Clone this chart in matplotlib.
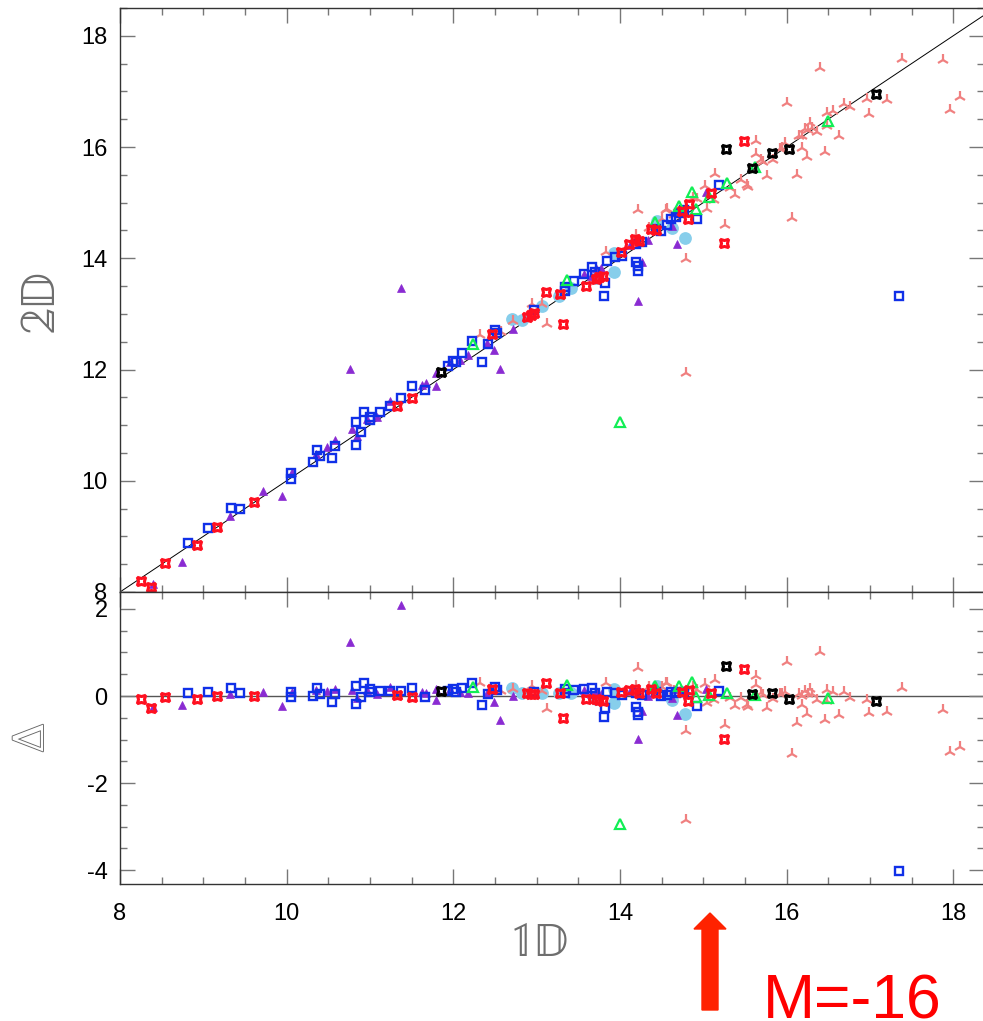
import numpy as np
import matplotlib.pyplot as plt
import matplotlib.patheffects as pe
from matplotlib.patches import FancyArrow
from matplotlib.ticker import MultipleLocator

plt.rcParams['font.family'] = ['Liberation Sans', 'DejaVu Sans']
plt.rcParams['axes.unicode_minus'] = False

# 1D magnitude and residual (2D - 1D) for each sample
red_x = [8.25, 8.37, 8.54, 8.93, 9.17, 9.61, 11.33, 11.51, 12.47, 12.88, 12.93, 12.97,
         13.11, 13.28, 13.32, 13.59, 13.71, 13.75, 13.80, 14.01, 14.11, 14.18, 14.23,
         14.37, 14.43, 14.75, 14.82, 14.83, 15.09, 15.25, 15.49]
red_d = [-0.06, -0.28, -0.02, -0.08, 0.00, 0.00, 0.02, -0.03, 0.17, 0.06, 0.05, 0.05,
         0.29, 0.08, -0.51, -0.08, -0.08, -0.09, -0.11, 0.10, 0.14, 0.17, 0.08,
         0.15, 0.08, 0.10, -0.11, 0.14, 0.08, -0.98, 0.62]

blue_x = [8.82, 9.06, 9.33, 9.44, 10.05, 10.05, 10.32, 10.37, 10.40, 10.54, 10.58,
          10.83, 10.83, 10.89, 10.93, 11.00, 11.00, 11.12, 11.24, 11.37, 11.51, 11.66,
          11.94, 12.00, 12.03, 12.11, 12.23, 12.34, 12.42, 12.50, 12.52, 12.97, 13.34,
          13.34, 13.45, 13.57, 13.67, 13.70, 13.81, 13.82, 13.85, 13.94, 14.03, 14.19,
          14.19, 14.22, 14.22, 14.27, 14.43, 14.49, 14.57, 14.61, 14.67, 14.71, 14.77,
          14.93, 15.19, 17.35]
blue_d = [0.06, 0.09, 0.18, 0.06, 0.09, -0.02, 0.01, 0.18, 0.05, -0.13, 0.04,
          0.23, -0.18, -0.02, 0.30, 0.15, 0.09, 0.12, 0.11, 0.11, 0.19, -0.03,
          0.12, 0.15, 0.10, 0.19, 0.29, -0.20, 0.04, 0.21, 0.14, 0.10, 0.15,
          0.08, 0.14, 0.15, 0.18, 0.06, -0.49, -0.27, 0.10, 0.08, 0.02, 0.06,
          -0.26, -0.36, -0.44, 0.02, 0.10, 0.00, 0.02, 0.10, 0.08, 0.10, 0.10,
          -0.23, 0.12, -4.02]

purple_x = [8.40, 8.75, 9.32, 9.72, 9.95, 10.06, 10.35, 10.48, 10.58, 10.76, 10.79,
            10.84, 10.97, 11.09, 11.24, 11.37, 11.63, 11.67, 11.79, 11.79, 11.96, 12.08,
            12.18, 12.41, 12.49, 12.56, 12.72, 13.57, 13.65, 13.71, 13.77, 14.12, 14.22,
            14.27, 14.34, 14.62, 14.67, 14.69, 14.75, 15.03]
purple_d = [-0.25, -0.21, 0.04, 0.10, -0.22, 0.10, 0.14, 0.12, 0.15, 1.25, 0.14,
            -0.04, 0.14, 0.05, 0.20, 2.10, 0.10, 0.08, 0.15, -0.09, 0.17, 0.10,
            0.08, 0.06, -0.14, -0.55, 0.01, 0.14, 0.04, 0.11, 0.05, 0.11, -0.98,
            -0.34, -0.01, -0.04, 0.17, -0.44, 0.12, 0.17]

sky_x = [12.71, 12.83, 13.07, 13.27, 13.41, 13.71, 13.93, 13.93, 14.45, 14.63, 14.78]
sky_d = [0.19, 0.06, 0.08, 0.06, 0.06, -0.06, -0.17, 0.17, 0.22, -0.09, -0.41]

green_x = [12.24, 13.36, 14.00, 14.42, 14.71, 14.86, 14.91, 15.07, 15.28, 15.62, 16.50]
green_d = [0.21, 0.25, -2.94, 0.23, 0.23, 0.33, -0.03, 0.03, 0.08, 0.02, -0.04]

black_x = [11.85, 15.27, 15.58, 15.82, 16.03, 17.07]
black_d = [0.11, 0.69, 0.05, 0.08, -0.06, -0.11]

salmon_x = [12.32, 12.57, 12.72, 12.94, 13.06, 13.13, 13.83, 14.19, 14.22, 14.35, 14.50,
            14.55, 14.57, 14.65, 14.79, 14.79, 14.88, 14.93, 15.02, 15.04, 15.13, 15.14,
            15.26, 15.32, 15.38, 15.45, 15.52, 15.54, 15.63, 15.63, 15.69, 15.72, 15.76,
            15.84, 15.92, 15.94, 15.98, 16.00, 16.06, 16.12, 16.15, 16.18, 16.19, 16.22,
            16.24, 16.26, 16.28, 16.30, 16.37, 16.40, 16.46, 16.48, 16.49, 16.56, 16.63,
            16.69, 16.76, 16.96, 16.99, 17.21, 17.39, 17.88, 17.96, 18.08]
salmon_d = [0.30, 0.11, 0.16, 0.24, 0.12, -0.31, 0.29, 0.23, 0.64, 0.20, 0.21,
            0.31, 0.31, 0.12, -0.80, -2.85, 0.20, 0.14, 0.28, -0.15, -0.09, 0.37,
            -0.67, -0.05, -0.24, -0.05, -0.21, -0.25, 0.47, 0.25, 0.08, 0.02, -0.28,
            -0.08, 0.04, 0.05, 0.09, 0.79, -1.33, -0.63, 0.05, -0.20, 0.00, 0.11,
            -0.41, 0.05, 0.15, 0.04, -0.10, 1.02, -0.55, 0.13, -0.12, 0.09, -0.43,
            0.09, -0.04, -0.10, -0.40, -0.36, 0.19, -0.32, -1.29, -1.18]

cross = (4, 1, 45)
series = [
    (sky_x, sky_d, dict(marker='o', ms=9.2, mfc='#87CEEB', mec='none')),
    (salmon_x, salmon_d, dict(marker='2', ms=9, mec='#F08080', mew=1.6)),
    (purple_x, purple_d, dict(marker='^', ms=6, mfc='#8A2BD2', mec='#8A2BD2', mew=0.5)),
    (blue_x, blue_d, dict(marker='s', ms=6.2, mfc='none', mec='#1030E8', mew=1.7)),
    (green_x, green_d, dict(marker='^', ms=7, mfc='none', mec='#12EE55', mew=1.6)),
    (red_x, red_d, dict(marker=cross, ms=8.5, mfc='none', mec='#FF1020', mew=2.2)),
    (black_x, black_d, dict(marker=cross, ms=8.5, mfc='none', mec='black', mew=2.2)),
]

W, H = 983, 1021
fig = plt.figure(figsize=(W / 100, H / 100), dpi=100)


def box(l, t, r, b):
    return [l / W, 1 - b / H, (r - l) / W, (b - t) / H]


ax_top = fig.add_axes(box(120, 8, 984, 592))
ax_bot = fig.add_axes(box(120, 592, 984, 884), sharex=ax_top)

for x, d, style in series:
    x = np.array(x)
    d = np.array(d)
    ax_top.plot(x, x + d, ls='none', **style)
    ax_bot.plot(x, d, ls='none', **style)

ax_top.axline((8, 8), slope=1, color='black', lw=0.7, zorder=1)
ax_bot.axhline(0, color='#555555', lw=1.0, zorder=1)

ax_top.set_xlim(8, 18.37)
ax_top.set_ylim(8, 18.5)
ax_bot.set_ylim(-4.32, 2.39)

for ax in (ax_top, ax_bot):
    ax.xaxis.set_major_locator(MultipleLocator(2))
    ax.xaxis.set_minor_locator(MultipleLocator(0.5))
    ax.yaxis.set_major_locator(MultipleLocator(2))
    ax.yaxis.set_minor_locator(MultipleLocator(0.5))
    ax.tick_params(which='both', direction='in', top=True, right=True,
                   color='#777777', labelsize=17)
    ax.tick_params(which='major', length=10.5, width=1)
    ax.tick_params(which='minor', length=5, width=1)
    ax.tick_params(axis='y', pad=9)
    ax.tick_params(axis='x', pad=14)
    for sp in ax.spines.values():
        sp.set_color('#333333')
        sp.set_linewidth(1)

ax_top.tick_params(labelbottom=False)

# axis labels: double-struck glyphs in light grey
bb_fonts = ['STIXGeneral', 'DejaVu Sans']
fig.text(41 / W, 1 - 300 / H, '\U0001D7DA\U0001D53B', rotation=90, fontsize=36,
         color='#6E6E6E', family=bb_fonts, ha='center', va='center')
fig.text(540 / W, 1 - 945 / H, '\U0001D7D9\U0001D53B', fontsize=34,
         color='#6E6E6E', family=bb_fonts, ha='center', va='center')
fig.text(31 / W, 1 - 738 / H, 'Δ', rotation=90, fontsize=30, color='white',
         family='DejaVu Serif', ha='center', va='center',
         path_effects=[pe.withStroke(linewidth=1.3, foreground='#666666')])

arrow = FancyArrow(7.10, 0.11, 0, 0.97, width=0.16, head_width=0.32,
                   head_length=0.16, length_includes_head=True,
                   color='#FF2200', transform=fig.dpi_scale_trans)
fig.add_artist(arrow)
fig.text(763 / W, 3 / H, 'M=-16', fontsize=45, color='#FF0000',
         ha='left', va='baseline')

fig.savefig('out.png', dpi=100)
